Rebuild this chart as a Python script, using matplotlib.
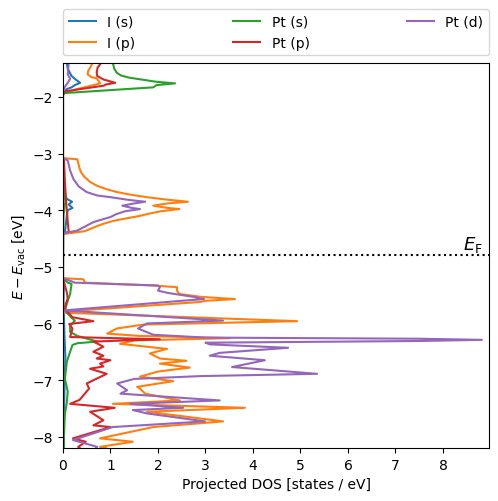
import matplotlib
matplotlib.use("Agg")
import matplotlib.pyplot as plt

# Fermi level [eV]
e_fermi = -4.8

# I (s)
e_i_s = [-1.40, -1.50, -1.63, -1.70, -1.75, -1.79, -1.83, -1.86, -1.95,
         -3.10, -3.50, -3.70, -3.80, -3.85, -3.90, -3.96, -4.00, -4.10, -4.25, -4.38, -4.42,
         -5.20, -5.30, -5.60, -5.90, -6.20, -6.40, -6.60, -6.90, -7.20, -7.60, -8.00, -8.20]
dos_i_s = [0.08, 0.10, 0.18, 0.28, 0.36, 0.25, 0.18, 0.08, 0.0,
           0.0, 0.01, 0.03, 0.08, 0.19, 0.12, 0.20, 0.10, 0.08, 0.06, 0.04, 0.0,
           0.0, 0.02, 0.01, 0.02, 0.03, 0.04, 0.05, 0.04, 0.03, 0.02, 0.02, 0.01]

# I (p)
e_i_p = [-1.40, -1.47, -1.54, -1.60, -1.65, -1.67, -1.72, -1.76, -1.80, -1.86, -1.92, -1.95,
         -3.08, -3.10, -3.16, -3.24, -3.33, -3.41, -3.50, -3.57, -3.63, -3.68, -3.73, -3.77,
         -3.81, -3.85, -3.88, -3.92, -3.96, -3.98, -4.02, -4.06, -4.10, -4.15, -4.19, -4.24,
         -4.28, -4.37, -4.40, -4.42,
         -5.20, -5.22, -5.28, -5.30, -5.33, -5.36, -5.42, -5.48, -5.53, -5.57, -5.60, -5.62,
         -5.79, -5.81, -5.96, -6.02, -6.09, -6.18, -6.22, -6.26, -6.30, -6.36, -6.45, -6.53,
         -6.62, -6.66, -6.71, -6.78, -6.85, -6.94, -7.02, -7.12, -7.15, -7.24, -7.36, -7.42,
         -7.49, -7.56, -7.73, -7.83, -8.03, -8.09, -8.18, -8.20]
dos_i_p = [0.62, 0.58, 0.53, 0.52, 0.60, 0.71, 0.75, 0.78, 0.60, 0.30, 0.05, 0.0,
           0.0, 0.30, 0.32, 0.34, 0.38, 0.45, 0.57, 0.72, 0.92, 1.14, 1.45, 1.77,
           2.15, 2.63, 2.20, 1.90, 2.20, 2.45, 2.05, 1.82, 1.62, 1.30, 1.05, 0.85,
           0.72, 0.46, 0.20, 0.0,
           0.0, 0.43, 0.46, 1.00, 1.90, 2.40, 2.40, 2.45, 2.90, 3.62, 3.00, 2.90,
           0.02, 0.02, 4.93, 1.69, 1.13, 0.93, 1.60, 3.52, 1.50, 1.20, 2.19, 1.83,
           2.04, 2.60, 2.04, 2.67, 2.00, 1.62, 2.32, 1.56, 1.62, 1.73, 2.46, 1.05,
           3.83, 1.77, 3.37, 1.90, 0.78, 1.47, 0.78, 0.90]

# Pt (s)
e_pt_s = [-1.40, -1.50, -1.57, -1.62, -1.66, -1.70, -1.73, -1.76, -1.79, -1.83, -1.93, -1.96,
          -3.60, -3.75, -3.85, -3.95, -4.10,
          -5.20, -5.28, -5.30, -5.48, -5.60, -5.77, -5.90, -5.95, -6.04, -6.15, -6.22,
          -6.32, -6.35, -6.38, -6.50, -6.68, -6.98, -7.20, -7.40, -7.60, -8.00, -8.20]
dos_pt_s = [1.05, 1.08, 1.13, 1.22, 1.40, 1.72, 1.95, 2.36, 1.97, 1.90, 0.05, 0.0,
            0.0, 0.03, 0.05, 0.03, 0.01,
            0.0, 0.10, 0.18, 0.15, 0.10, 0.04, 0.18, 0.25, 0.15, 0.15, 0.30,
            0.72, 0.30, 0.20, 0.15, 0.08, 0.04, 0.10, 0.08, 0.04, 0.02, 0.02]

# Pt (p)
e_pt_p = [-1.40, -1.48, -1.56, -1.63, -1.69, -1.75, -1.78, -1.80, -1.90, -1.93,
          -3.08, -3.10, -3.50, -3.90, -4.20, -4.38, -4.42,
          -5.20, -5.33, -5.45, -5.56, -5.65, -5.74, -5.89, -5.96, -6.01, -6.09, -6.24,
          -6.28, -6.32, -6.41, -6.50, -6.57, -6.62, -6.65, -6.71, -6.76, -6.80, -6.89,
          -7.06, -7.15, -7.25, -7.35, -7.42, -7.49, -7.56, -7.71, -7.80, -7.83, -8.03,
          -8.09, -8.18, -8.20]
dos_pt_p = [0.80, 0.73, 0.71, 0.72, 0.85, 1.10, 0.90, 0.86, 0.05, 0.0,
            0.0, 0.02, 0.04, 0.07, 0.10, 0.12, 0.0,
            0.0, 0.04, 0.08, 0.10, 0.06, 0.04, 0.20, 0.64, 0.13, 0.20, 0.15,
            2.04, 0.64, 0.85, 0.64, 0.85, 0.71, 1.00, 0.78, 0.85, 0.57, 0.92,
            0.50, 0.55, 0.45, 0.35, 0.15, 1.09, 0.57, 0.85, 0.64, 1.00, 0.21,
            0.48, 0.32, 0.35]

# Pt (d)
e_pt_d = [-1.40, -1.60, -1.68, -1.75, -1.82, -1.90,
          -3.08, -3.12, -3.30, -3.45, -3.58, -3.68, -3.74, -3.77, -3.82, -3.85, -3.88,
          -3.92, -3.96, -3.98, -4.02, -4.07, -4.12, -4.21, -4.29, -4.36, -4.40, -4.42,
          -5.20, -5.23, -5.28, -5.33, -5.36, -5.42, -5.46, -5.53, -5.57, -5.60, -5.77,
          -5.95, -6.00, -6.09, -6.20, -6.25, -6.27, -6.29, -6.31, -6.34, -6.37, -6.43,
          -6.52, -6.57, -6.65, -6.77, -6.89, -6.93, -6.98, -7.06, -7.18, -7.24, -7.36,
          -7.42, -7.49, -7.53, -7.59, -7.73, -7.83, -8.06, -8.18, -8.20]
dos_pt_d = [0.12, 0.10, 0.15, 0.10, 0.04, 0.0,
            0.0, 0.10, 0.15, 0.22, 0.33, 0.50, 0.72, 1.00, 1.40, 1.73, 1.50,
            1.25, 1.45, 1.62, 1.30, 1.12, 1.00, 0.64, 0.46, 0.30, 0.05, 0.0,
            0.0, 0.10, 0.25, 2.00, 2.04, 2.00, 2.20, 2.74, 2.97, 2.50, 0.02,
            3.37, 1.77, 1.58, 1.90, 3.00, 7.50, 8.82, 7.50, 3.00, 3.09, 4.74,
            3.30, 3.09, 4.25, 3.56, 5.35, 2.90, 1.50, 1.14, 1.35, 1.21, 3.30,
            1.41, 2.53, 1.47, 1.77, 2.99, 1.05, 0.21, 0.72, 0.70]

series = [
    ("I (s)", e_i_s, dos_i_s),
    ("I (p)", e_i_p, dos_i_p),
    ("Pt (s)", e_pt_s, dos_pt_s),
    ("Pt (p)", e_pt_p, dos_pt_p),
    ("Pt (d)", e_pt_d, dos_pt_d),
]

fig = plt.figure(figsize=(4.98, 5.02), dpi=100)
ax = fig.add_axes([0.1265, 0.1056, 0.8555, 0.7669])

for label, energy, dos in series:
    ax.plot(dos, energy, label=label, lw=1.5)

ax.axhline(e_fermi, color="k", ls=":", lw=1.5)
ax.text(8.85, e_fermi + 0.02, r"$E_\mathrm{F}$", ha="right", va="bottom", fontsize=13)

ax.set_xlim(0, 8.97)
ax.set_ylim(-8.2, -1.4)
ax.set_xticks(range(0, 9))
ax.set_xlabel("Projected DOS [states / eV]")
ax.set_ylabel(r"$E - E_\mathrm{vac}$ [eV]")

ax.legend(bbox_to_anchor=(0, 1.02, 1, 0.2), loc="lower left", mode="expand",
          ncol=3, borderaxespad=0)

fig.savefig("out.png", dpi=100)
